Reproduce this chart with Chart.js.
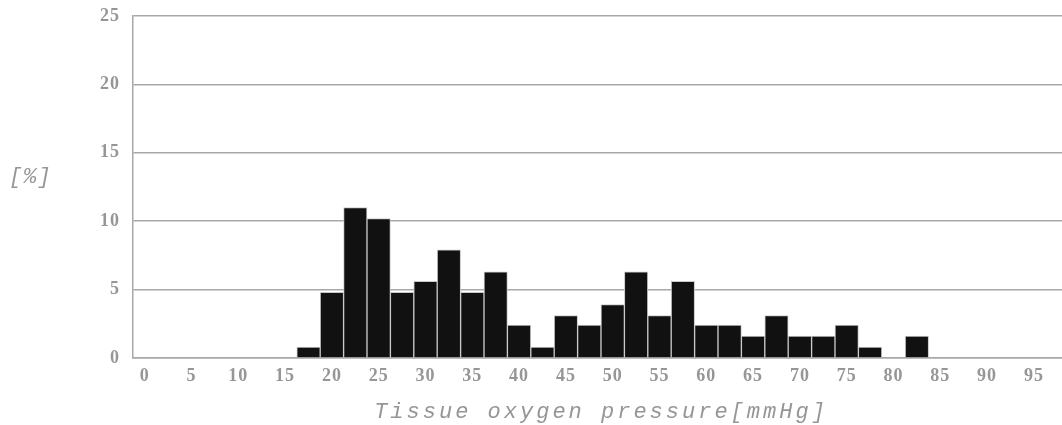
<!DOCTYPE html>
<html>
<head>
<meta charset="utf-8">
<script src="https://cdn.jsdelivr.net/npm/chart.js@4"></script>
<style>
  body{ margin:0; overflow:hidden; background:#fff; }
  #wrap{ position:relative; width:1069px; height:425px; }
  #yunit{ position:absolute; left:9px; top:165px; font:italic 22px "Liberation Mono"; color:#969696; letter-spacing:1px; }
</style>
</head>
<body>
<div id="wrap">
  <canvas id="chart"></canvas>
  <div id="yunit">[%]</div>
</div>
<script>
// ----- data -----
const bins = [0,2.5,5,7.5,10,12.5,15,17.5,20,22.5,25,27.5,30,32.5,35,37.5,40,42.5,45,47.5,
              50,52.5,55,57.5,60,62.5,65,67.5,70,72.5,75,77.5,80,82.5,85,87.5,90,92.5,95,97.5];
const percent = [0,0,0,0,0,0,0,0.8,4.8,11.0,10.2,4.8,5.6,7.9,4.8,6.3,2.4,0.8,3.1,2.4,
                 3.9,6.3,3.1,5.6,2.4,2.4,1.6,3.1,1.6,1.6,2.4,0.8,0,1.6,0,0,0,0,0,0];
const yTicks = [0,5,10,15,20,25];
const xTitle = "Tissue oxygen pressure[mmHg]";

const grey = "#969696";
const lineGrey = "#a8a8a8";
const tickFont = { family:"Liberation Serif", size:18, weight:"bold" };

// stretch text a bit like the original image (title wide, tick labels a little)
const spacing = {
  id:"spacing",
  beforeDraw(chart){ chart.ctx.letterSpacing = "3px"; },
  afterDatasetsDraw(chart){ chart.ctx.letterSpacing = "1px"; }
};

new Chart(document.getElementById("chart"),{
  type:"bar",
  data:{
    labels:bins,
    datasets:[{
      data:percent,
      backgroundColor:"#111111",
      borderColor:"#c8c8c8",
      borderWidth:1,
      barPercentage:1,
      categoryPercentage:1
    }]
  },
  options:{
    responsive:true,
    maintainAspectRatio:false,
    animation:false,
    layout:{ padding:{ top:16, right:0, bottom:0, left:0 } },
    plugins:{ legend:{display:false}, tooltip:{enabled:false} },
    scales:{
      x:{
        grid:{ display:false, drawTicks:false },
        border:{ display:true, color:lineGrey, width:1.5 },
        ticks:{
          z:1, autoSkip:false, maxRotation:0, minRotation:0, padding:8,
          color:grey, font:tickFont,
          callback:(v,i)=> bins[i] % 5 === 0 ? String(bins[i]) : ""
        },
        title:{
          display:true, text:xTitle, color:grey,
          font:{ family:"Liberation Mono", size:22, style:"italic" },
          padding:{ top:0, bottom:0 }
        },
        afterFit:(s)=>{ s.height = 67; s.paddingLeft = 0; s.paddingRight = 0; }
      },
      y:{
        min:0, max:25,
        afterBuildTicks:(s)=>{ s.ticks = yTicks.map(v=>({value:v})); },
        grid:{ color:lineGrey, lineWidth:1.5, drawTicks:false },
        border:{ display:true, color:lineGrey, width:1.5 },
        ticks:{ z:1, padding:13, color:grey, font:tickFont },
        afterFit:(s)=>{ s.width = 133; s.paddingTop = 0; s.paddingBottom = 0; }
      }
    }
  },
  plugins:[spacing]
});
</script>
</body>
</html>
